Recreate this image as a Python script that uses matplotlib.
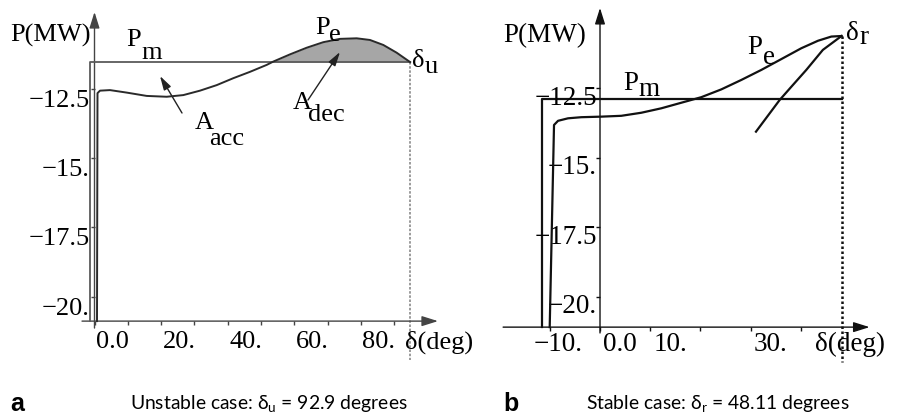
import numpy as np
import matplotlib
matplotlib.use('Agg')
import matplotlib.pyplot as plt
from matplotlib.transforms import offset_copy

# ---------------- data ----------------
# panel a : unstable case
a_pe_deg = [0.75, 0.9, 1.65, 4.65, 9.67, 15.68, 21.68, 26.67, 31.68, 36.70, 41.68,
            46.70, 51.71, 53.69, 58.71, 63.72, 68.71, 73.72, 78.74, 82.73, 86.73,
            90.75, 94.8]
a_pe_p = [-20.88, -12.65, -12.56, -12.54, -12.63, -12.75, -12.78, -12.72, -12.56,
          -12.36, -12.11, -11.88, -11.63, -11.51, -11.25, -11.01, -10.81, -10.69,
          -10.67, -10.73, -10.91, -11.19, -11.53]
a_pm = -11.53
a_pm_start = -1.5
a_delta_u = 94.8
a_xticks = [0, 10, 20, 30, 40, 50, 60, 70, 80, 90]
a_xlabel_vals = [0, 20, 40, 60, 80]
a_xlabels = ['0.0', '20.', '40.', '60.', '80.']
a_yticks = [-12.5, -15, -17.5, -20]
a_ylabels = ['\u221212.5', '\u221215.', '\u221217.5', '\u221220.']

# panel b : stable case
b_pe_deg = [-10.02, -9.16, -8.36, -6.37, -3.72, 0.26, 4.24, 8.22, 12.21, 16.19, 20.18,
            24.16, 28.15, 32.13, 36.12, 40.10, 43.43, 46.08, 48.11]
b_pe_p = [-21.10, -13.83, -13.68, -13.59, -13.55, -13.53, -13.50, -13.39, -13.23,
          -13.03, -12.83, -12.55, -12.21, -11.85, -11.46, -11.07, -10.80, -10.65, -10.63]
b_ret_deg = [48.11, 44.39, 41.09, 38.43, 35.79, 31.07]
b_ret_p = [-10.63, -11.13, -11.85, -12.39, -12.93, -14.07]
b_pm = -12.90
b_pm_start = -11.5
b_delta_r = 48.11
b_xticks = [-10, 0, 10, 20, 30, 40]
b_xlabel_vals = [-10, 0, 10, 30]
b_xlabels = ['\u221210.', '0.0', '10.', '30.']
b_yticks = [-12.5, -15, -17.5, -20]
b_ylabels = ['\u221212.5', '\u221215.', '\u221217.5', '\u221220.']

caption_a = 'Unstable case: \u03b4$_\\mathregular{u}$ = 92.9 degrees'
caption_b = 'Stable case: \u03b4$_\\mathregular{r}$ = 48.11 degrees'

# ---------------- figure ----------------
W, H = 898, 420
fig = plt.figure(figsize=(W / 100, H / 100), dpi=100)
SERIF = 'Liberation Serif'


def fp(x, y):
    return (x / W, 1 - y / H)


def ftext(x, y, s, size, ha='left', va='center', **kw):
    fig.text(*fp(x, y), s, fontsize=size, ha=ha, va=va, family=SERIF, **kw)


def setup(ax, xlim, ylim, x0, yaxis_lo, yaxis_hi, xaxis_lo, xaxis_hi, xaxis_y,
          xticks, yticks, col):
    ax.set_xlim(*xlim)
    ax.set_ylim(*ylim)
    ax.set_facecolor('none')
    ax.spines['left'].set_position(('data', x0))
    ax.spines['bottom'].set_position(('data', xaxis_y))
    for s in ax.spines.values():
        s.set_visible(False)
    ax.set_xticks(xticks)
    ax.set_yticks(yticks)
    ax.tick_params(axis='both', direction='out', length=3, width=1, colors=col,
                   labelbottom=False, labelleft=False)
    ap = dict(arrowstyle='-|>,head_length=0.7,head_width=0.22', color=col, lw=1.0,
              mutation_scale=14, shrinkA=0, shrinkB=0)
    ax.annotate('', xy=(xaxis_hi, xaxis_y), xytext=(xaxis_lo, xaxis_y), arrowprops=ap)
    ax.annotate('', xy=(x0, yaxis_hi), xytext=(x0, yaxis_lo), arrowprops=ap)


# ---- panel a ----
axa = fig.add_axes([0, 0, 0.5, 1])
a_axis_y = -20.88
setup(axa, (-28.38, 106.46), (-24.45, -9.287), 0, -21.13, -9.72, -3.75, 103.15,
      a_axis_y, a_xticks, a_yticks, '#444444')

pe = np.array(a_pe_p)
axa.fill_between(a_pe_deg, pe, a_pm, where=pe >= a_pm, interpolate=True,
                 color='#a6a6a6', lw=0, zorder=1)
axa.plot([a_pm_start, a_pm_start, a_delta_u], [a_axis_y, a_pm, a_pm],
         color='#5a5a5a', lw=1.3, zorder=3)
axa.plot(a_pe_deg, a_pe_p, color='#2a2a2a', lw=1.4, zorder=4)
axa.plot([a_delta_u, a_delta_u], [a_pm, -22.28], color='#8a8a8a', lw=1.2,
         ls=(0, (1.5, 1)), zorder=2)

fs_a = 19
for v, s in zip(a_xlabel_vals, a_xlabels):
    axa.text(v, a_axis_y, s, fontsize=fs_a, family=SERIF, ha='left', va='center',
             transform=offset_copy(axa.transData, fig, x=1.5, y=-20.5, units='dots'))
for v, s in zip(a_yticks, a_ylabels):
    axa.text(0, v, s, fontsize=fs_a, family=SERIF, ha='right', va='center',
             transform=offset_copy(axa.transData, fig, x=-4.5, y=-12, units='dots'))

ftext(10, 35, 'P(MW)', fs_a)
ftext(126, 40, 'P', fs_a)
ftext(141, 53, 'm', fs_a)
ftext(315, 28, 'P', fs_a)
ftext(329, 35, 'e', fs_a)
ftext(412, 61, '\u03b4', fs_a)
ftext(425, 67, 'u', fs_a)
ftext(195, 123, 'A', fs_a)
ftext(209, 139, 'acc', fs_a)
ftext(293, 103, 'A', fs_a)
ftext(308, 115, 'dec', fs_a)
ftext(405, 342, '\u03b4(deg)', fs_a)

arrow_ann = dict(arrowstyle='-|>,head_length=0.7,head_width=0.2', color='#222222',
                 lw=1.0, mutation_scale=12, shrinkA=0, shrinkB=0)
axa.annotate('', xy=(160, H - 76), xytext=(182, H - 113), xycoords='figure pixels',
             textcoords='figure pixels', arrowprops=arrow_ann)
axa.annotate('', xy=(340, H - 52), xytext=(308, H - 100), xycoords='figure pixels',
             textcoords='figure pixels', arrowprops=arrow_ann)

# ---- panel b ----
axb = fig.add_axes([0.5, 0, 0.5, 1])
b_axis_y = -21.10
setup(axb, (-30.08, 59.36), (-24.44, -9.335), 0, -21.31, -9.62, -19.3, 53.7,
      b_axis_y, b_xticks, b_yticks, '#111111')

axb.plot([b_pm_start, b_pm_start, b_delta_r], [b_axis_y, b_pm, b_pm],
         color='#111111', lw=1.6, zorder=3)
axb.plot(b_pe_deg, b_pe_p, color='#111111', lw=1.6, zorder=4)
axb.plot(b_ret_deg, b_ret_p, color='#111111', lw=1.6, zorder=4)
axb.plot([b_delta_r, b_delta_r], [-10.63, -22.36], color='#111111', lw=1.8,
         ls=(0, (1, 1)), zorder=2)

fs_b = 19.5
for v, s in zip(b_xlabel_vals, b_xlabels):
    dx = -16 if s.startswith('\u2212') else 3
    axb.text(v, b_axis_y, s, fontsize=fs_b, family=SERIF, ha='left', va='center',
             transform=offset_copy(axb.transData, fig, x=dx, y=-17, units='dots'))
for v, s in zip(b_yticks, b_ylabels):
    axb.text(0, v, s, fontsize=fs_b, family=SERIF, ha='right', va='center',
             transform=offset_copy(axb.transData, fig, x=-3, y=-10, units='dots'))

ftext(503, 36, 'P(MW)', fs_b)
ftext(623, 84, 'P', fs_b)
ftext(638, 90, 'm', fs_b)
ftext(747, 48, 'P', fs_b)
ftext(763, 58, 'e', fs_b)
ftext(846, 34, '\u03b4', fs_b)
ftext(859, 38, 'r', fs_b)
ftext(815, 344, '\u03b4(deg)', fs_b)

# ---- captions ----
fig.text(*fp(10, 404), 'a', fontsize=18, fontweight='bold', family='Liberation Sans',
         ha='left', va='center')
fig.text(*fp(503, 404), 'b', fontsize=18, fontweight='bold', family='Liberation Sans',
         ha='left', va='center')
fig.text(*fp(130, 404), caption_a, fontsize=13.9, family='Lato', ha='left', va='center')
fig.text(*fp(586, 404), caption_b, fontsize=13.9, family='Lato', ha='left', va='center')

fig.savefig('out.png', dpi=100)
